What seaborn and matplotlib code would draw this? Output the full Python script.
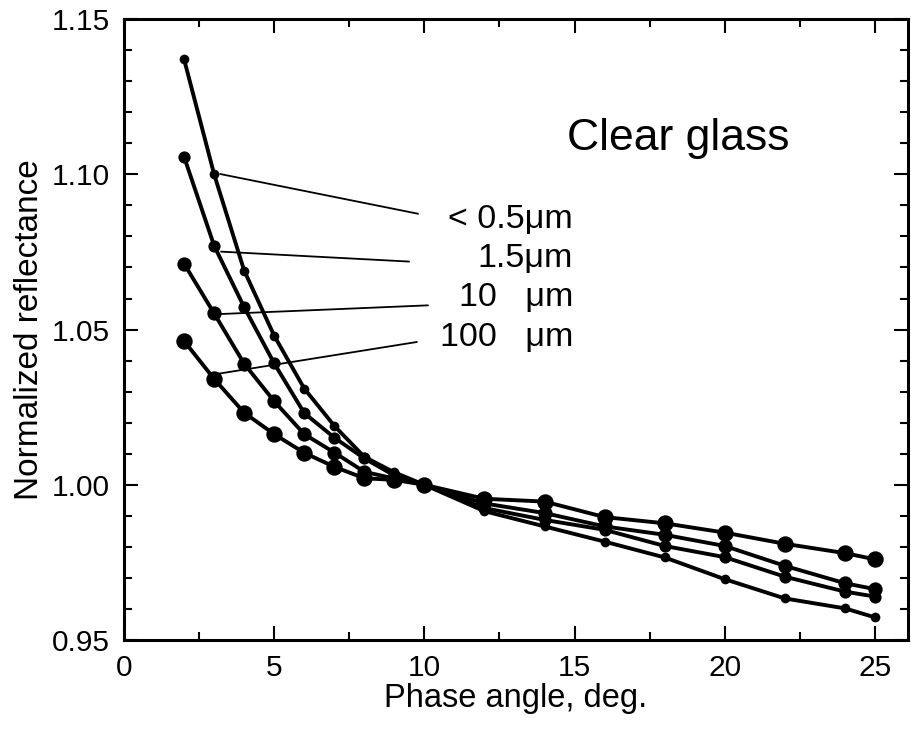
import matplotlib
matplotlib.use("Agg")
import matplotlib.pyplot as plt
import seaborn as sns
import pandas as pd
from matplotlib.ticker import MultipleLocator, FormatStrFormatter

# ---- data ----
phase_angle = [2, 3, 4, 5, 6, 7, 8, 9, 10, 12, 14, 16, 18, 20, 22, 24, 25]
refl_05um = [1.137, 1.100, 1.069, 1.048, 1.031, 1.019, 1.009, 1.004, 1.000,
             0.9915, 0.9866, 0.9817, 0.9766, 0.9696, 0.9634, 0.9602, 0.9573]
refl_15um = [1.1056, 1.077, 1.0572, 1.0391, 1.0231, 1.0152, 1.0085, 1.003, 1.000,
             0.9925, 0.9887, 0.9855, 0.9803, 0.9767, 0.9704, 0.9656, 0.964]
refl_10um = [1.0712, 1.0552, 1.039, 1.0269, 1.0163, 1.0104, 1.0042, 1.002, 1.000,
             0.994, 0.9909, 0.9866, 0.9839, 0.9803, 0.9739, 0.9683, 0.9664]
refl_100um = [1.0463, 1.0341, 1.0232, 1.0163, 1.0103, 1.0058, 1.0021, 1.0016, 1.000,
              0.9955, 0.9946, 0.9896, 0.9876, 0.9846, 0.981, 0.978, 0.976]
series_labels = ["< 0.5\u03bcm", "1.5\u03bcm", "10   \u03bcm", "100   \u03bcm"]
series_values = [refl_05um, refl_15um, refl_10um, refl_100um]
x_ticks = [0, 5, 10, 15, 20, 25]
y_ticks = [0.95, 1.00, 1.05, 1.10, 1.15]

# ---- annotation layout (not data) ----
marker_sizes = [7.0, 8.8, 10.3, 11.8]
leader_start = [(3.2, 1.1001), (3.23, 1.0751), (3.2, 1.0550), (2.96, 1.0355)]
leader_end = [(9.79, 1.0873), (9.49, 1.0719), (10.12, 1.0578), (9.75, 1.0460)]
label_pos = [(14.95, 1.0856), (14.95, 1.0728), (14.95, 1.0604), (14.95, 1.0476)]

sns.set_theme(style="ticks")
plt.rcParams["font.family"] = ["Liberation Sans", "DejaVu Sans"]

fig = plt.figure(figsize=(9.12, 7.34), dpi=100)
ax = fig.add_axes([0.136, 0.128, 0.8596, 0.846])

frames = []
for lab, vals in zip(series_labels, series_values):
    frames.append(pd.DataFrame({"phase": phase_angle, "refl": vals, "size": lab}))
df = pd.concat(frames, ignore_index=True)

for lab, ms in zip(series_labels, marker_sizes):
    sns.lineplot(data=df[df["size"] == lab], x="phase", y="refl", ax=ax,
                 color="black", linewidth=2.8, marker="o", markersize=ms,
                 markeredgewidth=0, estimator=None, sort=False, legend=False)

for (x0, y0), (x1, y1), (tx, ty), lab in zip(leader_start, leader_end, label_pos, series_labels):
    ax.plot([x0, x1], [y0, y1], color="black", linewidth=1.3)
    ax.text(tx, ty, lab, ha="right", va="center", fontsize=24.5, color="black")

ax.text(18.45, 1.1114, "Clear glass", ha="center", va="center", fontsize=32, color="black")

ax.set_xlim(0, 26.1)
ax.set_ylim(0.95, 1.15)
ax.set_xticks(x_ticks)
ax.set_yticks(y_ticks)
ax.xaxis.set_minor_locator(MultipleLocator(2.5))
ax.yaxis.set_minor_locator(MultipleLocator(0.01))
ax.yaxis.set_major_formatter(FormatStrFormatter("%.2f"))
ax.tick_params(which="both", direction="in", top=True, right=True,
               labelsize=21.5, colors="black", width=1.5)
ax.tick_params(which="major", length=10, pad=10)
ax.tick_params(which="minor", length=6)
for sp in ax.spines.values():
    sp.set_linewidth(2.2)
    sp.set_color("black")

ax.set_xlabel("Phase angle, deg.", fontsize=23.5, color="black", labelpad=1)
ax.set_ylabel("Normalized reflectance", fontsize=24, color="black", labelpad=5)

fig.savefig("out.png", dpi=100, facecolor="white")
